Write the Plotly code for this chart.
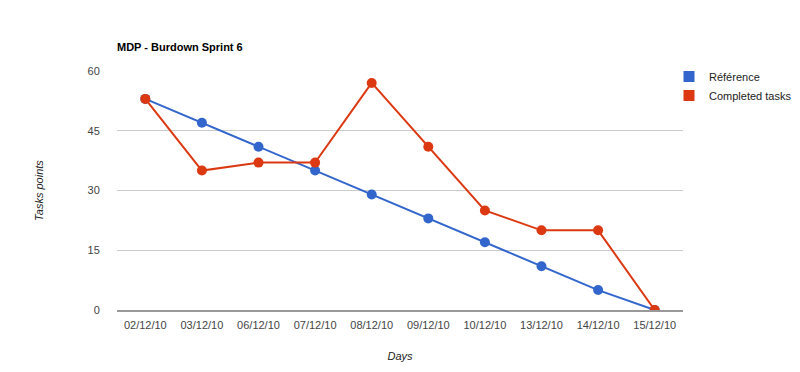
import plotly.graph_objects as go

days = ["02/12/10", "03/12/10", "06/12/10", "07/12/10", "08/12/10",
        "09/12/10", "10/12/10", "13/12/10", "14/12/10", "15/12/10"]
reference = [53, 47, 41, 35, 29, 23, 17, 11, 5, 0]
completed = [53, 35, 37, 37, 57, 41, 25, 20, 20, 0]
y_ticks = [0, 15, 30, 45, 60]

BLUE = "#3366cc"
RED = "#dc3912"
FONT = "Liberation Sans, Arial, sans-serif"

fig = go.Figure()
fig.add_trace(go.Scatter(x=days, y=reference, mode="lines+markers", name="Référence",
                         line=dict(color=BLUE, width=2), marker=dict(size=10, color=BLUE),
                         showlegend=False))
fig.add_trace(go.Scatter(x=days, y=completed, mode="lines+markers", name="Completed tasks",
                         line=dict(color=RED, width=2), marker=dict(size=10, color=RED),
                         showlegend=False))
# legend entries (square swatches)
for name, col in [("Référence", BLUE), ("Completed tasks", RED)]:
    fig.add_trace(go.Scatter(x=[None], y=[None], mode="markers", name=name,
                             marker=dict(symbol="square", size=11, color=col)))

fig.update_layout(
    width=800, height=372,
    margin=dict(l=117, r=117, t=71, b=62, autoexpand=False),
    paper_bgcolor="white", plot_bgcolor="white",
    font=dict(family=FONT, size=11, color="#444444"),
    title=dict(text="<b>MDP - Burdown Sprint 6</b>", x=117/800, xanchor="left",
               xref="container", y=1 - 47/372, yref="container", yanchor="middle",
               font=dict(family=FONT, size=11, color="black")),
    legend=dict(x=669 / 800, xanchor="left", xref="container",
                y=1 - 62/372, yanchor="top", yref="container",
                font=dict(family=FONT, size=11, color="#222222"),
                tracegroupgap=0, itemwidth=30, bgcolor="rgba(0,0,0,0)"),
    showlegend=True,
)
fig.update_xaxes(
    type="category", range=[-0.5, 9.5], showgrid=False, automargin=False,
    showline=True, linecolor="#999999", linewidth=2,
    ticks="outside", ticklen=4, tickcolor="white",
    tickfont=dict(family=FONT, size=11, color="#444444"),
    title=dict(text="Days", font=dict(family=FONT, size=11, color="#222222", style="italic"),
               standoff=22),
    fixedrange=True,
)
fig.update_yaxes(
    range=[0, 60], tickvals=y_ticks, showgrid=True, gridcolor="#cccccc", gridwidth=1,
    zeroline=False, showline=False, automargin=False,
    ticks="outside", ticklen=14, tickcolor="white",
    tickfont=dict(family=FONT, size=11, color="#444444"),
    title=dict(text="Tasks points", font=dict(family=FONT, size=11, color="#222222", style="italic"),
               standoff=41),
    fixedrange=True,
)

fig.write_html("out.html", config={"displayModeBar": False},
               post_script="document.body.style.margin='0';document.body.style.padding='0';")
